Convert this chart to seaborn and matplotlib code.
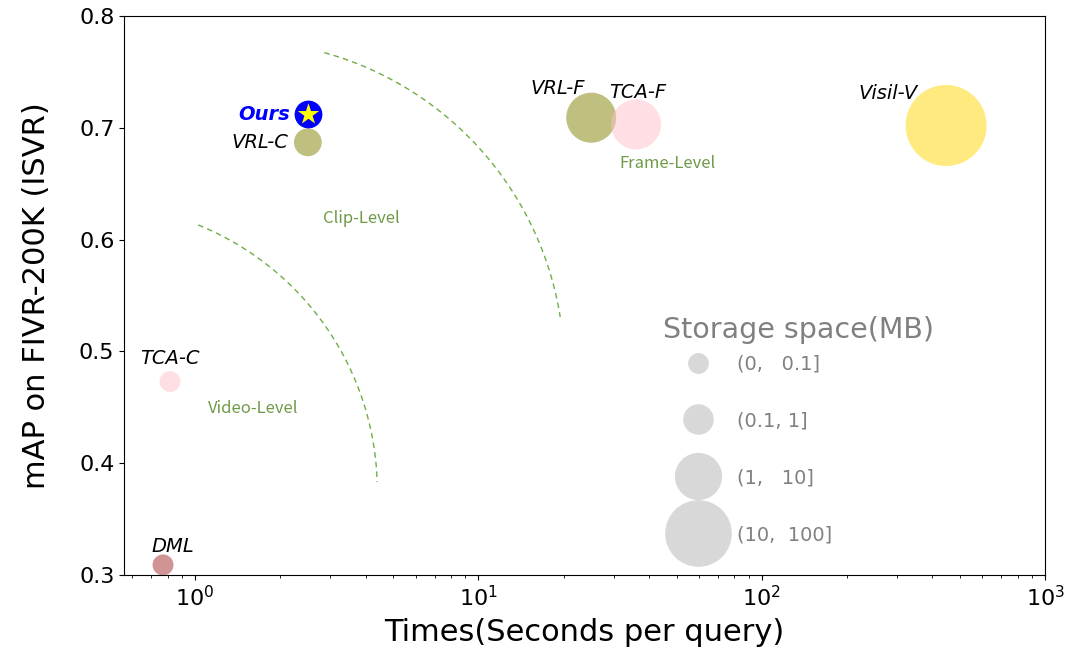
import numpy as np
import pandas as pd
import seaborn as sns
import matplotlib.pyplot as plt
from matplotlib.lines import Line2D

# data
methods = ['VRL-C', 'VRL-F', 'TCA-C', 'TCA-F', 'Visil-V', 'DML']
times = [2.5, 25, 0.816, 36, 447, 0.771]
maps = [0.687, 0.709, 0.473, 0.703, 0.702, 0.309]
ours_time = [2.5]
ours_map = [0.712]
storage_labels = ['(0,   0.1]', '(0.1, 1]', '(1,   10]', '(10,  100]']
level_names = ['Video-Level', 'Clip-Level', 'Frame-Level']

df = pd.DataFrame({'method': methods, 'time': times, 'map': maps})

palette = {'VRL-C': 'olive', 'VRL-F': 'olive', 'TCA-C': 'pink', 'TCA-F': 'pink',
           'Visil-V': 'gold', 'DML': 'brown'}
areas = {'VRL-C': 400, 'VRL-F': 1296, 'TCA-C': 227, 'TCA-F': 1296,
         'Visil-V': 3400, 'DML': 227}
# label offsets in points (dx, dy, ha)
offsets = {'VRL-C': (-14, 0, 'right'), 'VRL-F': (-24, 21, 'center'),
           'TCA-C': (0, 16.5, 'center'), 'TCA-F': (1.5, 23, 'center'),
           'Visil-V': (-42, 23, 'center'), 'DML': (7, 13, 'center')}

fig = plt.figure(figsize=(10.8, 6.59), dpi=100)
ax = fig.add_axes([0.115, 0.1275, 0.8528, 0.8483])

sns.scatterplot(data=df, x='time', y='map', hue='method', size='method',
                palette=palette, sizes=areas, alpha=0.5, linewidth=0,
                legend=False, ax=ax)
sns.scatterplot(x=ours_time, y=ours_map, s=400, color='blue', linewidth=0, ax=ax)
sns.scatterplot(x=ours_time, y=ours_map, s=260, marker='*', color='yellow',
                linewidth=0, ax=ax)

for m, t, v in zip(methods, times, maps):
    dx, dy, ha = offsets[m]
    ax.annotate(m, (t, v), xytext=(dx, dy), textcoords='offset points',
                ha=ha, va='center', fontsize=14, style='italic')
ax.annotate('Ours', (ours_time[0], ours_map[0]), xytext=(-13, 0),
            textcoords='offset points', ha='right', va='center', fontsize=14,
            style='italic', weight='bold', color='blue')

# dashed boundaries (circles in screen space, given in axes fraction)
green = '#70ad47'
ratio = 921 / 559
for cx, cy, r, t0, t1 in [(-0.0362, 0.151, 0.311, 68, 1.7),
                          (0.1222, 0.3698, 0.3556, 74.5, 9.0)]:
    th = np.radians(np.linspace(t0, t1, 100))
    ax.plot(cx + r * np.cos(th), cy + r * ratio * np.sin(th), color=green,
            lw=1, dashes=(4, 3), transform=ax.transAxes, clip_on=False)

for name, (fx, fy) in zip(level_names, [(0.1401, 0.297), (0.2573, 0.6369),
                                        (0.5896, 0.7352)]):
    ax.text(fx, fy, name, transform=ax.transAxes, ha='center', va='center',
            fontsize=12, color='#6f9a48', family=['Noto Sans CJK SC', 'DejaVu Sans'])

# storage legend
handles = [Line2D([], [], marker='o', ls='none', color='gray', alpha=0.3,
                  markeredgewidth=0, markersize=ms) for ms in [15, 22, 34, 48]]
ax.legend(handles, storage_labels, loc='upper left',
          bbox_to_anchor=(0.591, 0.412), frameon=False, fontsize=14,
          labelspacing=1.95, handletextpad=1.0, labelcolor='gray', borderpad=0)
ax.text(0.7318, 0.4383, 'Storage space(MB)', transform=ax.transAxes,
        ha='center', va='center', fontsize=20.5, color='gray')

ax.set_xscale('log')
ax.set_xlim(10 ** -0.25, 1000)
ax.set_ylim(0.3, 0.8)
ax.set_yticks([0.3, 0.4, 0.5, 0.6, 0.7, 0.8])
ax.tick_params(labelsize=16)
ax.set_xlabel('Times(Seconds per query)', fontsize=22, labelpad=6)
ax.set_ylabel('mAP on FIVR-200K (ISVR)', fontsize=22)
ax.yaxis.set_label_coords(-0.080, 0.5)

fig.savefig('out.png', dpi=100)
